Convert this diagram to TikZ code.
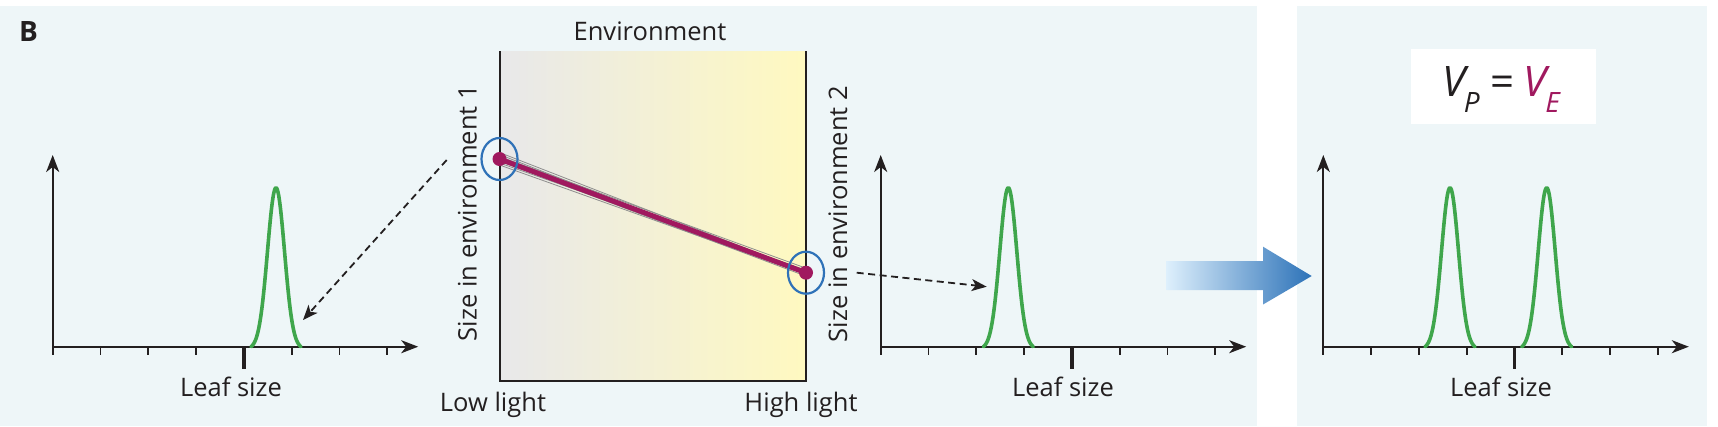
\documentclass[tikz,border=0pt]{standalone}
\usepackage{fontspec}
\setmainfont{Open Sans}
\usetikzlibrary{arrows.meta,shapes.geometric}
\definecolor{panelbg}{HTML}{EEF6F8}
\definecolor{ink}{HTML}{231F20}
\definecolor{leafgreen}{HTML}{3FA64C}
\definecolor{vpurple}{HTML}{A0195F}
\definecolor{ringblue}{HTML}{2F72B8}
\definecolor{envgray}{HTML}{E8E8EA}
\definecolor{envmid}{HTML}{EFEEE3}
\definecolor{envyellow}{HTML}{FFF9C0}
\definecolor{arrowlight}{HTML}{DDEFFC}
\definecolor{arrowdark}{HTML}{2C72B8}
\definecolor{bundle}{HTML}{8E8E8E}
\newcommand\leafaxes[1]{%
\begin{scope}[xshift=#1pt]
\draw[axisarrow] (0,346.7) -- (0,155);
\draw[axisarrow] (0,346.7) -- (365.5,346.7);
\foreach \i in {0,1,2,3,5,6,7} \draw[minortick] ({\i*47.8},346.7) -- ({\i*47.8},355);
\draw[majortick] ({4*47.8},348) -- ({4*47.8},369);
\end{scope}}
\newcommand\leafpeak[1]{%
\draw[curve] plot[domain=-25:25,samples=71,smooth] ({#1+\x},{346.7-159*(exp(-0.5*(\x/8.5)*(\x/8.5))-0.0132)/0.9868});}
\begin{document}
\begin{tikzpicture}[x=1pt,y=-1pt,
  axis/.style={draw=ink, line width=2pt},
  axisarrow/.style={axis, -{Stealth[length=17pt,width=13pt,inset=5pt]}},
  minortick/.style={draw=ink, line width=1.8pt},
  majortick/.style={draw=ink, line width=3.5pt},
  curve/.style={draw=leafgreen, line width=3.6pt, line join=round, line cap=round},
  dasharrow/.style={draw=ink, line width=1.8pt, dash pattern=on 7pt off 4.5pt, -{Stealth[length=15pt,width=12pt,inset=4pt]}},
  lbl/.style={text=ink, font=\fontsize{25.5}{30}\selectfont, inner sep=0pt},
  ring/.style={draw=ringblue, line width=2.2pt, ellipse, minimum width=36pt, minimum height=42pt, inner sep=0pt},
  dot/.style={circle, fill=vpurple, minimum size=14pt, inner sep=0pt},
]
\useasboundingbox (0,0) rectangle (1718,426);
\fill[white] (0,0) rectangle (1718,426);
% panels
\fill[panelbg] (0,6) rectangle (1257,426);
\fill[panelbg] (1297,6) rectangle (1707,426);
\node[lbl, font=\fontsize{28}{30}\selectfont\bfseries, anchor=base west] (B) at (19,41.7) {B};
% left plot
\leafaxes{52.7}
\leafpeak{276}
\node[lbl, anchor=base] (leaf1) at (231,396) {Leaf size};
% environment box
\shade[left color=envgray, middle color=envmid, right color=envyellow] (500,51) rectangle (806,381);
\draw[axis] (500,51) -- (500,381) -- (806,381) -- (806,51);
\node[lbl, anchor=base] (env) at (650,40) {Environment};
\node[lbl, anchor=base] (low) at (493,411.7) {Low light};
\node[lbl, anchor=base] (high) at (801,411.7) {High light};
\node[lbl, rotate=90, anchor=base] (s1) at (476.5,213) {Size in environment 1};
\node[lbl, rotate=90, anchor=base] (s2) at (847,214) {Size in environment 2};
\coordinate (e1) at (499.5,159);
\coordinate (e2) at (806,272.7);
\foreach \a/\b in {-6/-1.5,-4/2.5,-2/-3.5,2.5/4.5,4.5/-2,6.5/1}
  \draw[bundle, line width=0.8pt] ([yshift=\a pt]e1) -- ([yshift=\b pt]e2);
\draw[vpurple, line width=5pt] (e1) -- (e2);
\node[dot] (d1) at (e1) {};
\node[dot] (d2) at (e2) {};
\node[ring] (r1) at (e1) {};
\node[ring] (r2) at (e2) {};
% dashed arrows
\coordinate (a1s) at (446.7,160);
\coordinate (a1e) at (303,320);
\draw[dasharrow] (a1s) -- (a1e);
\coordinate (a2s) at (856.7,272.7);
\coordinate (a2e) at (986.7,286.7);
\draw[dasharrow] (a2s) -- (a2e);
% middle plot
\leafaxes{880.7}
\leafpeak{1008.3}
\node[lbl, anchor=base] (leaf2) at (1063,396) {Leaf size};
% big arrow
\shade[left color=arrowlight, right color=arrowdark] (1166.7,261) -- (1263,261) -- (1263,246.7) -- (1311.7,276) -- (1263,304.5) -- (1263,290) -- (1166.7,290) -- cycle;
% right plot
\leafaxes{1323.3}
\leafpeak{1450}
\leafpeak{1546.7}
\node[lbl, anchor=base] (leaf3) at (1501,396) {Leaf size};
\node[fill=white, minimum width=185pt, minimum height=75pt, inner sep=0pt] (vbox) at (1503.2,86.6) {};
\node[lbl, anchor=base] (vpve) at (1501,96.7) {\fontsize{42}{50}\selectfont\itshape V\kern-1.5pt\raisebox{-16pt}{\fontsize{28}{30}\selectfont P}\kern11pt\upshape=\kern9pt{\color{vpurple}\itshape V\kern-1.5pt\raisebox{-16pt}{\fontsize{28}{30}\selectfont E}}};
\end{tikzpicture}
\end{document}
